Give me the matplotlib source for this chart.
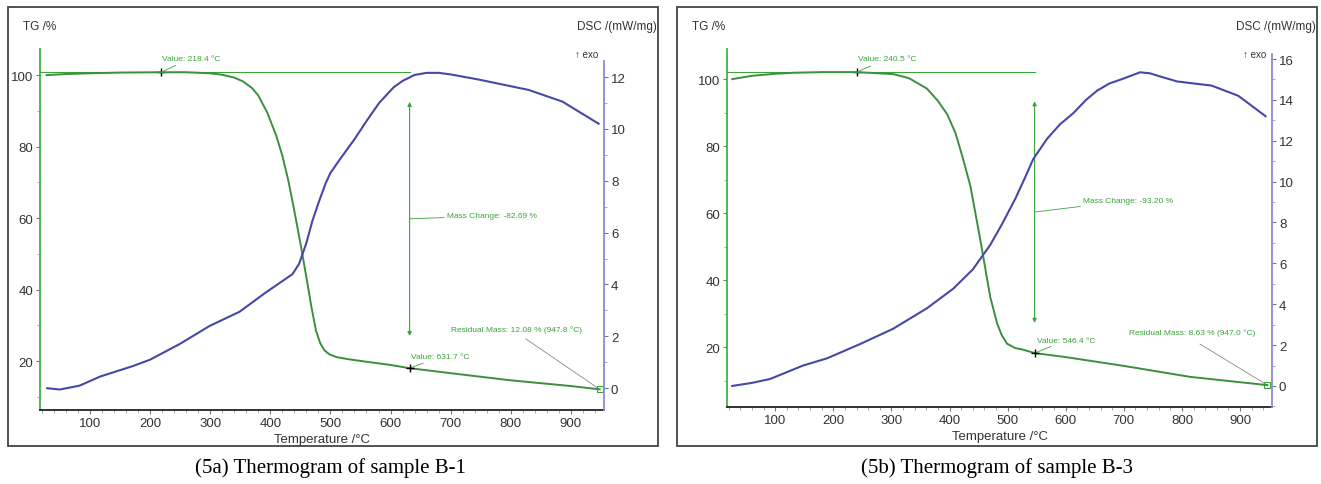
"""Thermograms (TG + DSC) of samples B-1 and B-3."""

import matplotlib
matplotlib.use("Agg")
import matplotlib.pyplot as plt
from matplotlib.patches import Rectangle
from matplotlib.ticker import FixedLocator, MultipleLocator

plt.rcParams["font.family"] = ["Liberation Sans", "DejaVu Sans"]

# ---- sample B-1 -------------------------------------------------------
TEMP_TG_B1 = [28, 60, 100, 150, 218.4, 260, 300, 320, 340, 355, 370, 380, 395,
              410, 420, 430, 440, 450, 460, 468, 476, 483, 490, 498, 510, 530,
              560, 600, 631.7, 700, 800, 900, 947.8]
TG_B1 = [100.0, 100.3, 100.5, 100.7, 100.8, 100.8, 100.5, 100.1, 99.3, 98.2,
         96.3, 94.3, 89.5, 83.0, 77.5, 70.5, 62.0, 53.0, 43.5, 35.5, 28.5,
         25.0, 23.0, 21.9, 21.1, 20.5, 19.8, 18.9, 18.0, 16.6, 14.6, 13.0,
         12.08]
TEMP_DSC_B1 = [29, 50, 83, 117, 171, 200, 249, 299, 349, 393, 437, 448, 460,
               470, 481, 492, 500, 515, 540, 560, 581, 605, 620, 640, 660, 680,
               700, 747, 830, 886, 946]
DSC_B1 = [0.0, -0.05, 0.1, 0.45, 0.85, 1.1, 1.7, 2.4, 2.95, 3.7, 4.4, 4.8, 5.6,
          6.45, 7.2, 7.9, 8.3, 8.8, 9.6, 10.3, 11.0, 11.6, 11.85, 12.08, 12.16,
          12.16, 12.1, 11.9, 11.5, 11.05, 10.2]

# ---- sample B-3 -------------------------------------------------------
TEMP_TG_B3 = [26, 60, 100, 131, 180, 240.5, 303, 330, 361, 380, 396, 410, 422,
              436, 453, 462, 470, 482, 490, 499, 513, 527, 546.4, 600, 699, 814,
              900, 947.0]
TG_B3 = [100.0, 101.0, 101.6, 101.9, 102.1, 102.1, 101.5, 100.3, 97.2, 93.5,
         89.5, 84.0, 77.0, 68.0, 52.0, 43.0, 35.0, 27.0, 23.5, 21.0, 19.7,
         19.2, 18.2, 17.0, 14.4, 11.1, 9.5, 8.63]
TEMP_DSC_B3 = [26, 60, 91, 148, 189, 246, 303, 361, 406, 440, 470, 490, 513,
               530, 544, 568, 590, 613, 635, 654, 675, 700, 728, 745, 762, 792,
               851, 897, 944]
DSC_B3 = [0.0, 0.15, 0.34, 1.0, 1.35, 2.05, 2.8, 3.8, 4.75, 5.7, 6.9, 7.9, 9.15,
          10.2, 11.1, 12.1, 12.8, 13.35, 14.0, 14.45, 14.8, 15.05, 15.35, 15.3,
          15.15, 14.9, 14.7, 14.2, 13.2]

# annotation values
ONSET = {"B-1": (218.4, 100.8), "B-3": (240.5, 102.1)}
END = {"B-1": (631.7, 18.0), "B-3": (546.4, 18.2)}
MASS_CHANGE = {"B-1": -82.69, "B-3": -93.20}
RESIDUAL = {"B-1": (12.08, 947.8), "B-3": (8.63, 947.0)}

TG_GREEN = "#3b8f3f"
TXT_GREEN = "#3aa33a"
SPINE_GREEN = "#47b04a"
DSC_BLUE = "#4747a6"
SPINE_BLUE = "#8a8ad6"
GREY = "#333333"


def draw_panel(fig, rect, frame, key, temp_tg, tg, temp_dsc, dsc,
               tg_lim, dsc_lim, dsc_top, arrow, mc_pos, res_pos, res_from,
               end_lbl):
    ax = fig.add_axes(rect)
    ax2 = ax.twinx()

    ax.plot(temp_tg, tg, color=TG_GREEN, lw=1.4, zorder=3)
    ax2.plot(temp_dsc, dsc, color=DSC_BLUE, lw=1.5)

    ax.set_xlim(17, 955)
    ax.set_ylim(*tg_lim)
    ax2.set_ylim(*dsc_lim)

    for side in ["top", "right"]:
        ax.spines[side].set_visible(False)
    for side in ["top", "left", "bottom"]:
        ax2.spines[side].set_visible(False)
    ax.spines["left"].set_color(SPINE_GREEN)
    ax.spines["left"].set_linewidth(1.3)
    ax.spines["bottom"].set_color("#222222")
    ax.spines["bottom"].set_linewidth(1.3)
    ax2.spines["right"].set_color(SPINE_BLUE)
    ax2.spines["right"].set_linewidth(1.3)
    ax2.spines["right"].set_bounds(dsc_lim[0], dsc_top)

    ax.set_xticks(list(range(100, 1000, 100)))
    ax.xaxis.set_minor_locator(MultipleLocator(20))
    ax.set_yticks([20, 40, 60, 80, 100])
    ax.yaxis.set_minor_locator(MultipleLocator(10))
    ax2.set_yticks(list(range(0, int(dsc_top) + 1, 2)))
    ax2.yaxis.set_minor_locator(FixedLocator(list(range(-1 if dsc_lim[0] < -1 else 0,
                                                        int(dsc_top) + 1))))
    for a in (ax, ax2):
        a.tick_params(which="major", length=3, width=0.8, color="#777777",
                      labelsize=9.5, labelcolor=GREY, pad=2)
        a.tick_params(which="minor", length=2, width=0.6, color="#999999")

    # plateau line, onset marker and label
    x0, y0 = ONSET[key]
    ax.plot([17, arrow[0]], [y0, y0], color=TXT_GREEN, lw=0.8)
    ax.plot(x0, y0, marker="+", color="black", ms=6, mew=1)
    ax.annotate(f"Value: {x0} °C", xy=(x0, y0), xytext=(x0 + 2, y0 + 3),
                fontsize=6, color=TXT_GREEN, va="bottom",
                arrowprops=dict(arrowstyle="-", color=TXT_GREEN, lw=0.6))

    # mass change arrow
    ax.annotate("", xy=(arrow[0], arrow[2]), xytext=(arrow[0], arrow[1]),
                arrowprops=dict(arrowstyle="<|-|>", color=TXT_GREEN, lw=0.8,
                                mutation_scale=6, shrinkA=0, shrinkB=0))
    ax.annotate(f"Mass Change: {MASS_CHANGE[key]:.2f} %", xy=mc_pos[0],
                xytext=mc_pos[1], fontsize=6, color=TXT_GREEN, va="bottom",
                arrowprops=dict(arrowstyle="-", color=TXT_GREEN, lw=0.6,
                                shrinkA=0, shrinkB=0))

    # end-of-step marker
    x1, y1 = END[key]
    ax.plot(x1, y1, marker="+", color="black", ms=6, mew=1, zorder=4)
    ax.annotate(f"Value: {x1} °C", xy=(x1, y1), xytext=end_lbl,
                fontsize=6, color=TXT_GREEN, va="bottom",
                arrowprops=dict(arrowstyle="-", color=TXT_GREEN, lw=0.6,
                                shrinkA=0, shrinkB=0))

    # residual mass
    rm, rt = RESIDUAL[key]
    ax.plot(rt, rm, marker="s", ms=4, mfc="none", mec=TXT_GREEN, mew=0.8)
    ax.text(res_pos[0], res_pos[1], f"Residual Mass: {rm} % ({rt} °C)",
            fontsize=6, color=TXT_GREEN, va="bottom")
    ax.plot([res_from[0], rt], [res_from[1], rm], color="#888888", lw=0.6)

    ax.set_xlabel("Temperature /°C", fontsize=9.5, color=GREY, labelpad=0)
    ax.xaxis.set_label_coords(0.5, -0.065)

    # header texts
    fig.text(frame[0] + 0.011, 0.944, "TG /%", fontsize=8.5, color=GREY,
             va="center")
    fig.text(frame[0] + frame[2] - 0.001, 0.944, "DSC /(mW/mg)", fontsize=8.5,
             color=GREY, va="center", ha="right")
    ax2.text(0.99, 1.0, "↑ exo", transform=ax2.transAxes, fontsize=7,
             color=GREY, ha="right", va="top")
    fig.patches.append(Rectangle((frame[0], frame[1]), frame[2], frame[3],
                                 transform=fig.transFigure, fill=False,
                                 ec="#444444", lw=1.3))
    return ax, ax2


def main() -> None:
    fig = plt.figure(figsize=(13.21, 4.85), dpi=100)
    W, H = 1321, 485

    def frac_rect(x0, y0, x1, y1):
        return [x0 / W, (H - y1) / H, (x1 - x0) / W, (y1 - y0) / H]

    draw_panel(fig, frac_rect(40, 50, 604, 411), frac_rect(8, 8, 658, 447),
               "B-1", TEMP_TG_B1, TG_B1, TEMP_DSC_B1, DSC_B1,
               tg_lim=(6.3, 107.3), dsc_lim=(-0.84, 13.08), dsc_top=12.6,
               arrow=(631.7, 92.5, 27.0),
               mc_pos=((631.7, 59.8), (694, 59.6)),
               res_pos=(700, 27.8), res_from=(825, 26.2),
               end_lbl=(634, 20.2))
    draw_panel(fig, frac_rect(727, 50, 1272, 408), frac_rect(677, 8, 1317, 447),
               "B-3", TEMP_TG_B3, TG_B3, TEMP_DSC_B3, DSC_B3,
               tg_lim=(2.1, 109.0), dsc_lim=(-1.03, 16.49), dsc_top=16.25,
               arrow=(546.4, 93.4, 27.2),
               mc_pos=((546.4, 60.3), (630, 62.7)),
               res_pos=(709, 23.3), res_from=(831, 20.9),
               end_lbl=(551, 21.0))

    caption_font = ["Liberation Serif", "DejaVu Serif"]
    fig.text(330 / W, 1 - 468 / H, "(5a) Thermogram of sample B-1",
             ha="center", va="center", fontsize=15, family=caption_font)
    fig.text(997 / W, 1 - 468 / H, "(5b) Thermogram of sample B-3",
             ha="center", va="center", fontsize=15, family=caption_font)

    fig.savefig("out.png", dpi=100)
    plt.close(fig)


if __name__ == "__main__":
    main()
